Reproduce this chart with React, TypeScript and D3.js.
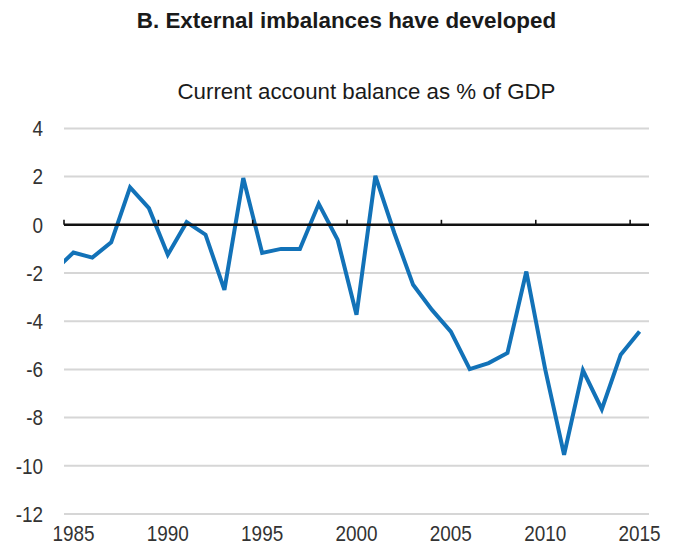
import React from "react";
import * as d3 from "d3";

const years: number[] = [
  1984, 1985, 1986, 1987, 1988, 1989, 1990, 1991, 1992, 1993, 1994, 1995, 1996, 1997, 1998, 1999,
  2000, 2001, 2002, 2003, 2004, 2005, 2006, 2007, 2008, 2009, 2010, 2011, 2012, 2013, 2014, 2015,
];
const balance: number[] = [
  -1.9, -1.15, -1.36, -0.73, 1.55, 0.69, -1.24, 0.11, -0.41, -2.7, 1.94, -1.17, -1.0, -1.0, 0.87, -0.62,
  -3.73, 2.03, -0.33, -2.49, -3.53, -4.43, -5.99, -5.74, -5.32, -1.94, -6.0, -9.54, -6.04, -7.65, -5.39, -4.43,
];
const yTicks: number[] = [4, 2, 0, -2, -4, -6, -8, -10, -12];
const xTickLabels: number[] = [1985, 1990, 1995, 2000, 2005, 2010, 2015];

const TITLE = "B. External imbalances have developed";
const SUBTITLE = "Current account balance as % of GDP";

export default function App() {
  const W = 676;
  const H = 547;
  const left = 64;
  const right = 649;
  const top = 128.4;
  const bottom = 514;

  const x = d3.scaleLinear().domain([1984.5, 2015.5]).range([left, right]);
  const y = d3.scaleLinear().domain([-12, 4]).range([bottom, top]);

  const line = d3
    .line<number>()
    .x((_, i) => x(years[i]))
    .y((d) => y(d));

  const font = "'Liberation Sans', Arial, Helvetica, sans-serif";
  const labelColor = "#333";
  const squeeze = 0.88;

  return (
    <div style={{ position: "absolute", left: 0, top: 0 }}>
      <svg width={W} height={H} style={{ display: "block", background: "#fff" }}>
        <defs>
          <clipPath id="plotClip">
            <rect x={left} y={0} width={right - left} height={H} />
          </clipPath>
        </defs>
        <text
          x={346.5}
          y={28}
          textAnchor="middle"
          fontFamily={font}
          fontWeight="bold"
          fontSize={22.4}
          fill="#1a1a1a"
        >
          {TITLE}
        </text>
        <text x={366.5} y={99} textAnchor="middle" fontFamily={font} fontSize={22.3} fill="#1a1a1a">
          {SUBTITLE}
        </text>

        {yTicks
          .filter((t) => t !== 0)
          .map((t) => (
            <line key={t} x1={left} x2={right} y1={y(t)} y2={y(t)} stroke="#d6d6d6" strokeWidth={2} />
          ))}

        {yTicks.map((t) => (
          <text
            key={"yl" + t}
            transform={`translate(43,${y(t)}) scale(${squeeze},1)`}
            dy="0.36em"
            textAnchor="end"
            fontFamily={font}
            fontSize={21.5}
            fill={labelColor}
          >
            {t}
          </text>
        ))}

        <path
          d={line(balance) || ""}
          fill="none"
          stroke="#1272b8"
          strokeWidth={4}
          strokeLinejoin="miter"
          clipPath="url(#plotClip)"
        />

        <line x1={left} x2={right} y1={y(0)} y2={y(0)} stroke="#111" strokeWidth={2.6} />
        {xTickLabels.map((yr) => (
          <line
            key={"xt" + yr}
            x1={x(yr - 0.5)}
            x2={x(yr - 0.5)}
            y1={y(0)}
            y2={y(0) - 5}
            stroke="#111"
            strokeWidth={1.6}
          />
        ))}

        {xTickLabels.map((yr) => (
          <text
            key={"xl" + yr}
            transform={`translate(${x(yr)},540.5) scale(${squeeze},1)`}
            textAnchor="middle"
            fontFamily={font}
            fontSize={21.5}
            fill={labelColor}
          >
            {yr}
          </text>
        ))}
      </svg>
    </div>
  );
}
